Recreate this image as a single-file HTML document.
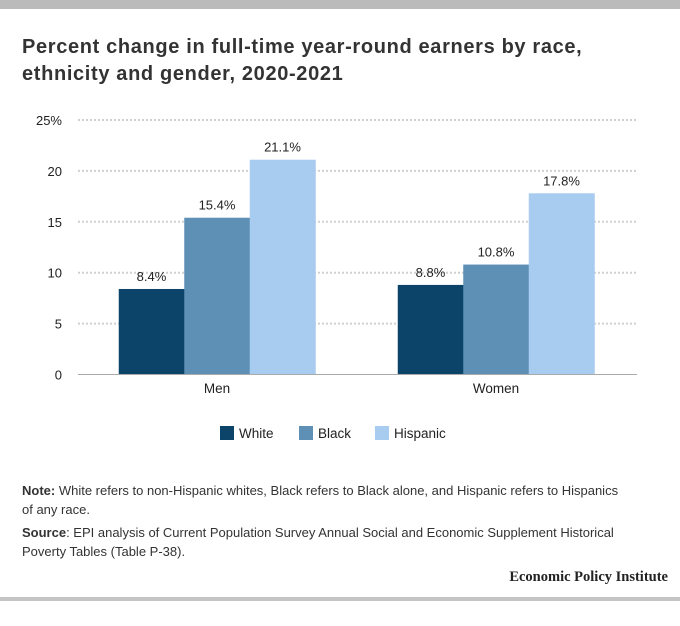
<!DOCTYPE html>
<html><head><meta charset="utf-8"><style>
body{margin:0;width:680px;height:626px;background:#fff;font-family:"Liberation Sans",sans-serif;position:relative;overflow:hidden;color:#222}
.topbar{position:absolute;left:0;top:0;width:680px;height:9px;background:#bbb}
.botbar{position:absolute;left:0;top:597px;width:680px;height:4px;background:#c4c4c4}
h1{position:absolute;left:22px;top:34px;margin:0;font-size:20px;line-height:27px;font-weight:bold;color:#333;letter-spacing:0.65px;white-space:nowrap}
.note{position:absolute;left:22px;font-size:13px;line-height:19px;color:#333}
.epi{position:absolute;right:12px;top:569px;font-family:"Liberation Serif",serif;font-weight:bold;font-size:14.5px;color:#222}
</style></head><body>
<div class="topbar"></div>
<h1>Percent change in full-time year-round earners by race,<br>ethnicity and gender, 2020-2021</h1>
<svg id="chart" width="680" height="460" style="position:absolute;left:0;top:0"></svg>
<div class="note" style="top:481px;width:650px"><b>Note:</b> White refers to non-Hispanic whites, Black refers to Black alone, and Hispanic refers to Hispanics<br>of any race.</div>
<div class="note" style="top:523px;width:615px"><b>Source</b>: EPI analysis of Current Population Survey Annual Social and Economic Supplement Historical Poverty Tables (Table P-38).</div>
<div class="epi">Economic Policy Institute</div>
<div class="botbar"></div>
<script>
const categories=["Men","Women"];
const seriesNames=["White","Black","Hispanic"];
const whiteVals=[8.4,8.8];
const blackVals=[15.4,10.8];
const hispanicVals=[21.1,17.8];
const yTicks=[0,5,10,15,20,25];
const yTickLabels=["0","5","10","15","20","25%"];
const colors=["#0b4468","#5e8fb5","#a8ccef"];
const values=[whiteVals,blackVals,hispanicVals];
const NS="http://www.w3.org/2000/svg";
const svg=document.getElementById('chart');
const y0=374.5,pxPer=10.18,xL=78,xR=637;
function y(v){return y0-v*pxPer;}
const groupCenters=[217,496],barW=65.5;
function gx(i){return groupCenters[i];}
function mk(t,a){const e=document.createElementNS(NS,t);for(const k in a)e.setAttribute(k,a[k]);svg.appendChild(e);return e;}
yTicks.forEach((t,i)=>{
 if(t>0){const l=mk('line',{x1:xL,x2:xR,y1:y(t),y2:y(t),stroke:'#d0d0d0','stroke-width':2,'stroke-dasharray':'2,2'});
 
 }
 const tx=mk('text',{x:62,y:y(t)+5,'text-anchor':'end','font-size':13,fill:'#222'});
 tx.textContent=yTickLabels[i];
 
 
});
categories.forEach((c,i)=>{
 values.forEach((s,j)=>{
  const x=gx(i)+(j-1.5)*barW;
  const r=mk('rect',{x:x,y:y(s[i]),width:barW+0.5,height:y0-y(s[i]),fill:colors[j]});
  
  
  const t=mk('text',{x:x+barW/2,y:y(s[i])-8,'text-anchor':'middle','font-size':13,fill:'#222'});
  t.textContent=s[i].toFixed(1)+'%';
  
  
 });
 const t=mk('text',{x:gx(i),y:393,'text-anchor':'middle','font-size':13.5,fill:'#222'});
 t.textContent=c;
 
 
});
const ax=mk('line',{x1:xL,x2:xR,y1:y0,y2:y0,stroke:'#aaa','stroke-width':1});


const legX=[220,299,375];
seriesNames.forEach((n,j)=>{
 const r=mk('rect',{x:legX[j],y:426,width:14,height:14,fill:colors[j]});
 
 
 const t=mk('text',{x:legX[j]+19,y:438,'font-size':13.5,fill:'#222'});
 t.textContent=n;
 
 
});
</script>
</body></html>
